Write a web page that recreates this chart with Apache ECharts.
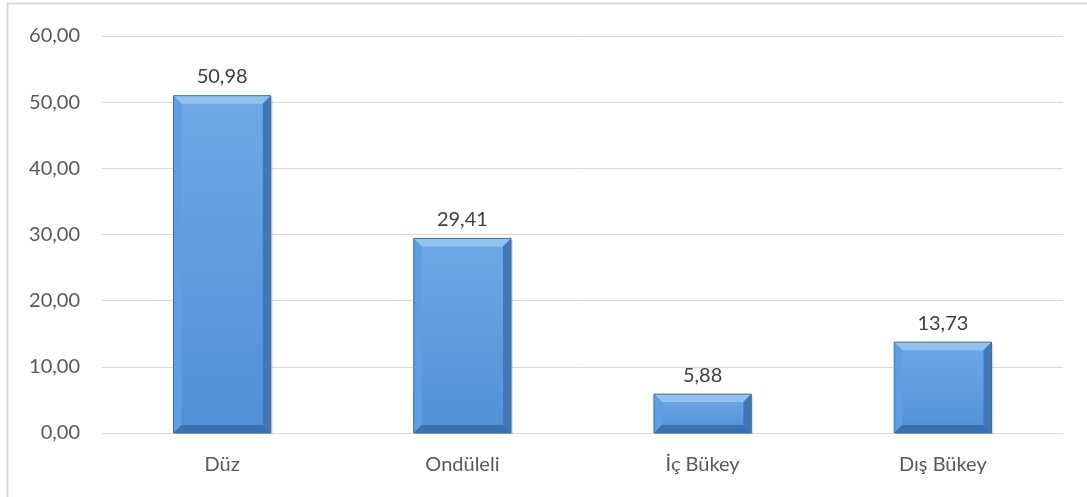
<!DOCTYPE html>
<html><head><meta charset="utf-8">
<script src="https://cdn.jsdelivr.net/npm/echarts@6/dist/echarts.min.js"></script>
<style>html,body{margin:0;padding:0;background:#fff}#c{width:1087px;height:497px}</style>
</head><body><div id="c"></div>
<script>
const categories = ['Düz', 'Ondüleli', 'İç Bükey', 'Dış Bükey'];
const values = [50.98, 29.41, 5.88, 13.73];
const yTicks = [0, 10, 20, 30, 40, 50, 60];

const fmt = v => v.toFixed(2).replace('.', ',');
const chart = echarts.init(document.getElementById('c'));
const FONT = 'Lato, "Open Sans", sans-serif';

function renderBar(params, api) {
  const idx = api.value(0);
  const val = api.value(1);
  const top = api.coord([idx, val]);
  const base = api.coord([idx, 0]);
  const band = api.size([1, 0])[0];
  const w = band * 0.405;
  const x0 = top[0] - w / 2, x1 = top[0] + w / 2;
  const y0 = top[1], y1 = base[1];
  const b = Math.min(8, (y1 - y0) / 2.5);
  const poly = (pts, fill) => ({ type: 'polygon', shape: { points: pts }, style: { fill: fill } });
  return {
    type: 'group',
    children: [
      { type: 'rect', shape: { x: x0 + 2, y: y0 + 2, width: w, height: y1 - y0 - 1 }, style: { fill: 'rgba(0,0,0,0.12)' } },
      { type: 'rect', shape: { x: x0, y: y0, width: w, height: y1 - y0 },
        style: { fill: new echarts.graphic.LinearGradient(0, 0, 0, 1, [{ offset: 0, color: '#6ea9e6' }, { offset: 1, color: '#4f90d6' }]) } },
      poly([[x0, y0], [x1, y0], [x1 - b, y0 + b], [x0 + b, y0 + b]], '#92c3f0'),
      poly([[x0, y0], [x0 + b, y0 + b], [x0 + b, y1 - b], [x0, y1]], '#5f9ee0'),
      poly([[x1, y0], [x1, y1], [x1 - b, y1 - b], [x1 - b, y0 + b]], '#3f78b8'),
      poly([[x0, y1], [x0 + b, y1 - b], [x1 - b, y1 - b], [x1, y1]], '#3a72b2'),
      { type: 'rect', shape: { x: x0, y: y0, width: w, height: y1 - y0 }, style: { fill: 'none', stroke: '#3d6fa6', lineWidth: 1 } }
    ]
  };
}

chart.setOption({
  animation: false,
  backgroundColor: '#fff',
  graphic: [{ type: 'rect', shape: { x: 7.5, y: 3.5, width: 1100, height: 520 }, style: { fill: 'none', stroke: '#d9d9d9', lineWidth: 2 }, z: 100 }],
  grid: { left: 102, right: 24, top: 36, bottom: 64, containLabel: false },
  xAxis: {
    type: 'category', data: categories,
    axisLine: { show: true, lineStyle: { color: '#d9d9d9', width: 1 } },
    axisTick: { show: false },
    axisLabel: { color: '#595959', fontSize: 20, fontFamily: FONT, margin: 22 }
  },
  yAxis: {
    type: 'value', min: 0, max: 60, interval: 10,
    axisLine: { show: false }, axisTick: { show: false },
    splitLine: { lineStyle: { color: '#d9d9d9', width: 1 } },
    axisLabel: { color: '#595959', fontSize: 20, fontFamily: FONT, margin: 22, formatter: v => fmt(v) }
  },
  series: [{
    type: 'custom',
    renderItem: renderBar,
    data: values.map((v, i) => [i, v]),
    encode: { x: 0, y: 1 },
    z: 2
  }, {
    type: 'bar',
    data: values,
    barWidth: '40.5%',
    itemStyle: { color: 'transparent' },
    silent: true,
    z: 3,
    label: { show: true, position: 'top', distance: 9, color: '#404040', fontSize: 20, fontFamily: FONT, formatter: p => fmt(p.value) }
  }]
});
</script></body></html>
